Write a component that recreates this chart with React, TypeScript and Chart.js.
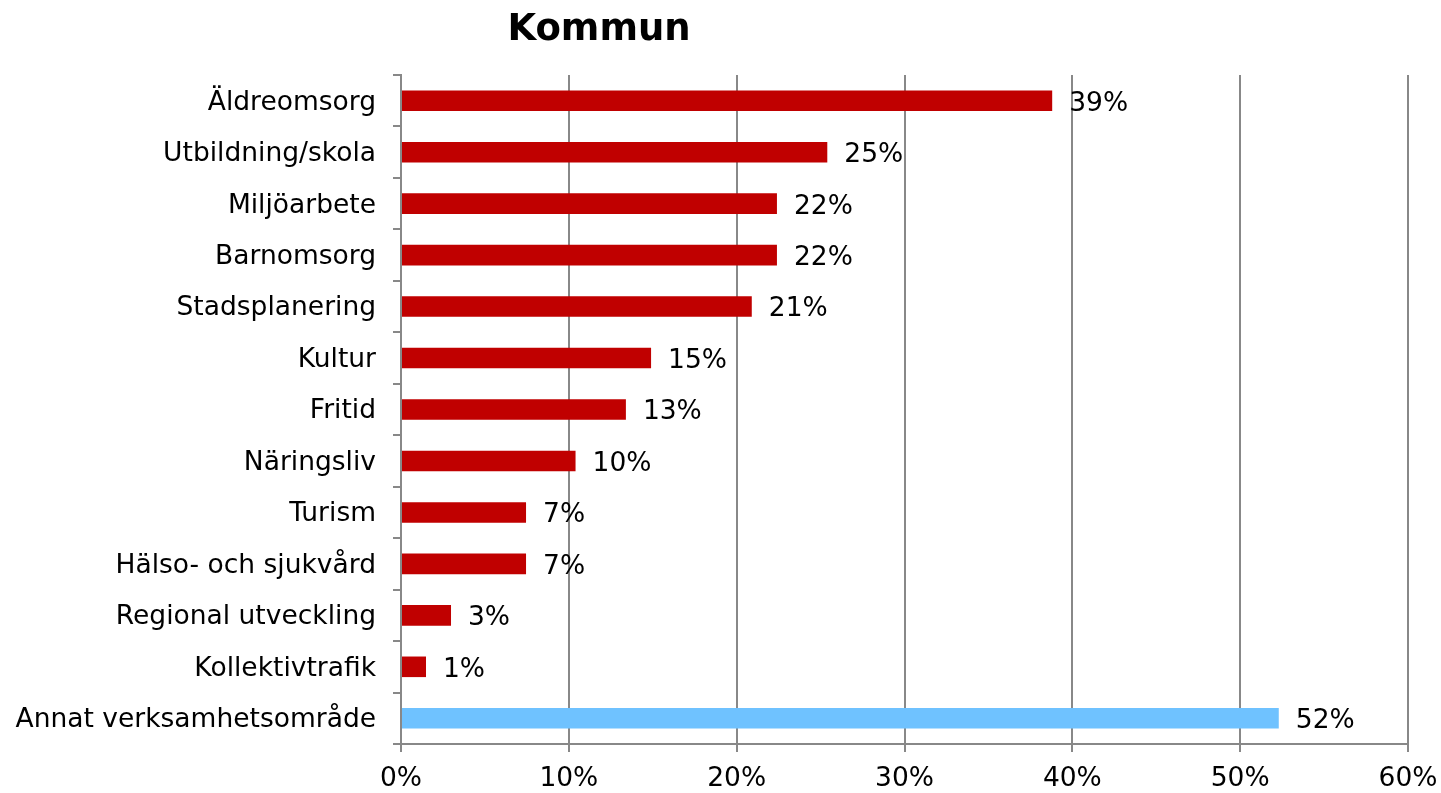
import React, { useEffect, useRef } from "react";
import { Chart, registerables } from "chart.js";

Chart.register(...registerables);

const titleText = "Kommun";
const categories = [
  "Äldreomsorg",
  "Utbildning/skola",
  "Miljöarbete",
  "Barnomsorg",
  "Stadsplanering",
  "Kultur",
  "Fritid",
  "Näringsliv",
  "Turism",
  "Hälso- och sjukvård",
  "Regional utveckling",
  "Kollektivtrafik",
  "Annat verksamhetsområde",
];
const values = [38.8, 25.4, 22.4, 22.4, 20.9, 14.9, 13.4, 10.4, 7.45, 7.45, 2.98, 1.49, 52.3];
const valueLabels = ["39%", "25%", "22%", "22%", "21%", "15%", "13%", "10%", "7%", "7%", "3%", "1%", "52%"];
const barColors = [
  "#C00000", "#C00000", "#C00000", "#C00000", "#C00000", "#C00000", "#C00000",
  "#C00000", "#C00000", "#C00000", "#C00000", "#C00000", "#6FC2FF",
];
const xTickValues = [0, 10, 20, 30, 40, 50, 60];

const FONT = "'DejaVu Sans', Verdana, sans-serif";
const FS = 26.5;

const labelPlugin = {
  id: "valueLabels",
  afterDatasetsDraw(chart: any) {
    const ctx = chart.ctx;
    const meta = chart.getDatasetMeta(0);
    ctx.save();
    ctx.font = `${FS}px ${FONT}`;
    ctx.fillStyle = "#000";
    ctx.textAlign = "left";
    ctx.textBaseline = "middle";
    meta.data.forEach((bar: any, i: number) => {
      ctx.fillText(valueLabels[i], bar.x + 17, bar.y + 3);
    });
    ctx.restore();
  },
};

const titlePlugin = {
  id: "customTitle",
  afterDraw(chart: any) {
    const ctx = chart.ctx;
    ctx.save();
    ctx.font = `bold 37px ${FONT}`;
    ctx.fillStyle = "#000";
    ctx.textAlign = "center";
    ctx.textBaseline = "middle";
    ctx.fillText(titleText, 599, 30);
    ctx.restore();
  },
};

export default function App() {
  const ref = useRef<HTMLCanvasElement | null>(null);
  useEffect(() => {
    if (!ref.current) return;
    const chart = new Chart(ref.current, {
      type: "bar",
      data: {
        labels: categories,
        datasets: [
          {
            data: values,
            backgroundColor: barColors,
            barPercentage: 0.4,
            categoryPercentage: 1,
          },
        ],
      },
      options: {
        indexAxis: "y",
        animation: false,
        responsive: false,
        maintainAspectRatio: false,
        layout: { padding: { top: 75, right: 33, left: 0, bottom: 0 } },
        plugins: {
          legend: { display: false },
          tooltip: { enabled: false },
          title: { display: false },
        },
        scales: {
          x: {
            type: "linear",
            min: 0,
            max: 60,
            afterBuildTicks: (s: any) => {
              s.ticks = xTickValues.map((v) => ({ value: v }));
            },
            afterFit: (s: any) => {
              s.height = 49;
              s.paddingLeft = 0;
              s.paddingRight = 0;
            },
            ticks: {
              callback: (v: any) => `${v}%`,
              font: { family: FONT, size: FS },
              color: "#000",
              padding: 11,
              maxRotation: 0,
            },
            grid: { color: "#888", lineWidth: 2, tickLength: 8 },
            border: { color: "#888", width: 2 },
          },
          y: {
            type: "category",
            afterFit: (s: any) => {
              s.width = 401;
              s.paddingTop = 0;
              s.paddingBottom = 0;
            },
            ticks: {
              font: { family: FONT, size: FS },
              color: "#000",
              padding: 17,
              autoSkip: false,
              labelOffset: 2,
            },
            grid: {
              offset: true,
              drawOnChartArea: false,
              tickLength: 8,
              color: "#888",
              lineWidth: 2,
            },
            border: { color: "#888", width: 2 },
          },
        },
      },
      plugins: [labelPlugin, titlePlugin],
    });
    return () => chart.destroy();
  }, []);
  return (
    <div style={{ position: "absolute", left: 0, top: 0, width: 1441, height: 793, background: "#fff" }}>
      <canvas ref={ref} width={1441} height={793} style={{ width: 1441, height: 793 }} />
    </div>
  );
}
